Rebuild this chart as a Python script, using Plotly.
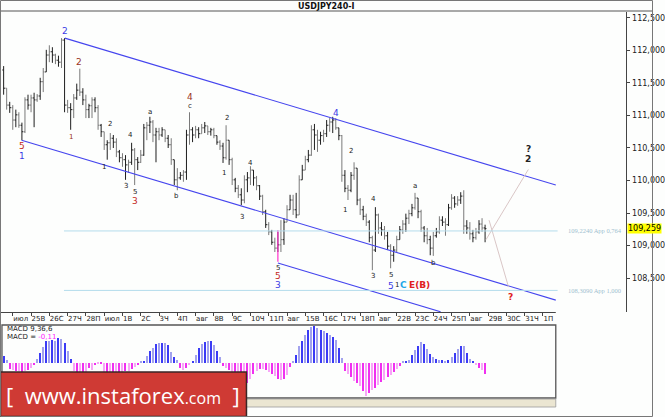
import plotly.graph_objects as go

# ---------------- data ----------------
opens = [111.70,111.42,111.16,111.12,110.93,111.01,110.85,110.75,111.24,111.16,
111.27,111.24,111.30,111.52,111.67,111.93,111.98,111.93,111.85,111.82,
112.16,111.16,111.12,111.09,111.27,111.39,111.36,111.24,111.09,111.15,
111.24,111.12,110.85,110.75,110.55,110.58,110.65,110.59,110.44,110.35,
110.32,110.24,110.28,110.47,110.32,110.28,110.39,110.81,110.85,110.90,
110.70,110.75,110.70,110.78,110.65,110.55,110.32,110.01,110.04,110.08,
110.13,110.70,110.78,110.70,110.78,110.72,110.81,110.84,110.75,110.78,
110.69,110.59,110.53,110.35,110.62,110.32,110.01,109.88,109.78,109.70,
110.01,110.04,110.16,110.04,109.92,109.76,109.52,109.32,109.21,109.05,
108.96,109.01,109.09,109.36,109.55,109.70,109.55,109.47,110.01,110.16,
110.32,110.39,110.78,110.70,110.62,110.69,110.72,110.85,110.90,110.93,
110.81,110.69,110.08,109.88,109.85,110.08,110.19,109.70,109.55,109.45,
109.36,109.12,108.93,109.47,109.27,109.24,109.15,108.99,108.85,108.93,
109.09,109.24,109.33,109.42,109.49,109.58,109.73,109.52,109.27,109.15,
109.09,108.96,109.15,109.21,109.39,109.36,109.32,109.58,109.73,109.64,
109.70,109.76,109.30,109.27,109.18,109.12,109.21,109.33,109.27]
highs = [111.76,111.42,111.21,111.16,111.09,111.05,110.89,111.28,111.32,111.32,
111.35,111.33,111.58,111.73,112.01,112.08,112.05,111.95,111.92,112.19,
112.19,111.24,111.19,111.33,111.49,111.72,111.42,111.32,111.18,111.28,
111.28,111.16,110.87,110.75,110.62,110.73,110.70,110.65,110.47,110.42,
110.39,110.32,110.58,110.50,110.36,110.47,110.87,110.90,110.98,110.93,
110.81,110.81,110.82,110.78,110.70,110.65,110.32,110.19,110.13,110.16,
110.78,111.05,110.82,110.84,110.82,110.87,110.90,110.84,110.81,110.81,
110.69,110.62,110.58,110.85,110.62,110.35,110.04,109.93,109.88,110.08,
110.13,110.22,110.16,110.07,109.93,109.78,109.55,109.36,109.24,109.12,
109.21,109.39,109.42,109.62,109.78,109.78,109.81,110.08,110.24,110.38,
110.47,110.85,110.87,110.78,110.75,110.78,110.93,110.96,110.98,110.96,
110.81,110.70,110.16,109.93,110.13,110.28,110.19,109.73,109.61,109.49,
109.39,109.15,109.59,109.49,109.36,109.30,109.21,109.02,108.99,109.15,
109.30,109.39,109.49,109.55,109.64,109.81,109.73,109.55,109.30,109.27,
109.15,109.21,109.27,109.45,109.45,109.42,109.64,109.79,109.76,109.76,
109.82,109.85,109.39,109.36,109.24,109.27,109.39,109.42,109.32]
lows = [111.32,111.09,111.04,110.78,110.82,110.81,110.62,110.73,111.09,111.05,
110.82,111.21,111.24,111.36,111.67,111.82,111.81,111.79,111.75,111.73,
111.05,111.04,110.78,110.96,111.24,111.30,111.16,110.96,110.96,110.96,
111.05,110.78,110.67,110.47,110.32,110.47,110.50,110.36,110.28,110.21,
110.01,110.12,110.24,109.93,110.16,110.27,110.38,110.62,110.73,110.59,
110.28,110.62,110.67,110.59,110.50,110.24,109.93,109.85,110.01,109.98,
110.01,110.55,110.59,110.65,110.65,110.72,110.73,110.70,110.69,110.65,
110.55,110.47,110.27,110.32,110.24,109.93,109.82,109.73,109.62,109.65,
109.82,109.93,109.92,109.85,109.70,109.47,109.27,109.16,109.01,108.90,
108.90,108.90,109.01,109.36,109.55,109.47,109.42,109.47,110.01,110.16,
110.28,110.38,110.47,110.44,110.55,110.59,110.67,110.75,110.73,110.78,
110.62,109.98,109.82,109.70,109.82,110.01,109.62,109.47,109.39,109.30,
109.05,108.62,108.90,109.18,109.15,109.09,108.93,108.65,108.75,108.90,
109.09,109.18,109.21,109.33,109.45,109.55,109.42,109.21,109.05,109.02,
108.85,108.84,109.12,109.18,109.30,109.15,109.30,109.55,109.58,109.61,
109.64,109.18,109.18,109.09,109.05,109.09,109.18,109.21,109.05]
closes = [111.42,111.16,111.12,110.93,111.01,110.85,110.75,111.24,111.16,111.27,
111.24,111.30,111.52,111.67,111.93,111.98,111.93,111.85,111.82,112.16,
111.16,111.12,111.09,111.27,111.39,111.36,111.24,111.09,111.15,111.24,
111.12,110.85,110.75,110.55,110.58,110.65,110.59,110.44,110.35,110.32,
110.24,110.28,110.47,110.32,110.28,110.39,110.81,110.85,110.90,110.70,
110.75,110.70,110.78,110.65,110.55,110.32,110.01,110.04,110.08,110.13,
110.70,110.78,110.70,110.78,110.72,110.81,110.84,110.75,110.78,110.69,
110.59,110.53,110.35,110.62,110.32,110.01,109.88,109.78,109.70,110.01,
110.04,110.16,110.04,109.92,109.76,109.52,109.32,109.21,109.05,108.96,
109.01,109.09,109.36,109.55,109.70,109.55,109.47,110.01,110.16,110.32,
110.39,110.78,110.70,110.62,110.69,110.72,110.85,110.90,110.93,110.81,
110.69,110.08,109.88,109.85,110.08,110.19,109.70,109.55,109.45,109.36,
109.12,108.93,109.47,109.27,109.24,109.15,108.99,108.85,108.93,109.09,
109.24,109.33,109.42,109.49,109.58,109.73,109.52,109.27,109.15,109.09,
108.96,109.15,109.21,109.39,109.36,109.32,109.58,109.73,109.64,109.70,
109.76,109.30,109.27,109.18,109.12,109.21,109.33,109.27,109.26]
macd_hist = [0.07,0.03,-0.06,-0.07,-0.08,-0.08,-0.09,-0.08,-0.07,-0.05,
-0.02,0.04,0.10,0.16,0.22,0.22,0.23,0.22,0.25,0.24,
0.20,0.12,0.04,-0.08,-0.09,-0.09,-0.09,-0.09,-0.05,-0.07,
-0.02,-0.01,-0.01,-0.09,-0.09,-0.09,-0.09,-0.09,-0.09,-0.09,
-0.08,-0.08,-0.06,-0.04,-0.02,0.01,0.02,0.07,0.12,0.15,
0.19,0.20,0.20,0.20,0.18,0.11,0.06,0.03,-0.05,-0.07,
-0.05,-0.02,0.02,0.08,0.15,0.19,0.21,0.22,0.22,0.18,
0.12,0.06,-0.03,-0.05,-0.07,-0.09,-0.12,-0.15,-0.17,-0.19,
-0.20,-0.16,-0.11,-0.08,-0.06,-0.06,-0.07,-0.09,-0.11,-0.13,
-0.16,-0.17,-0.16,-0.12,-0.04,0.01,0.08,0.17,0.22,0.28,
0.33,0.36,0.37,0.35,0.33,0.32,0.30,0.28,0.26,0.23,
0.15,0.05,-0.08,-0.11,-0.14,-0.18,-0.20,-0.23,-0.28,-0.33,
-0.30,-0.27,-0.25,-0.22,-0.19,-0.17,-0.14,-0.12,-0.09,-0.06,
-0.03,0.01,0.02,0.03,0.08,0.13,0.17,0.21,0.19,0.14,
0.09,0.06,0.04,0.03,0.03,0.02,0.03,0.06,0.10,0.14,
0.17,0.17,0.10,0.04,0.02,-0.02,-0.05,-0.07,-0.11]
day_labels = ["июл","25В","26С","27Ч","28П","июл","1В","2С","3Ч","4П",
              "авг","8В","9С","10Ч","11П","авг","15В","16С","17Ч","18П",
              "авг","22В","23С","24Ч","25П","авг","29В","30С","31Ч","1П"]
price_ticks = [108.5, 109.0, 109.5, 110.0, 110.5, 111.0, 111.5, 112.0, 112.5]
price_tick_text = ["108,500","109,000","109,500","110,000","110,500","111,000","111,500","112,000","112,500"]
last_price = 109.259
macd_last = "-0,11"
fibo_levels = [109.224, 108.309]
fibo_texts = ["109,2240 App 0,764", "108,3090 App 1,000"]

# wave labels: (bar index, price, text, kind)
wave_labels = [
    (20.1, 112.30, "2", "blue"), (24.6, 111.82, "2", "brown"), (22.0, 110.67, "1", "brown_s"),
    (5.9, 110.53, "5", "red"), (5.9, 110.38, "1", "blue"),
    (34.9, 110.87, "2", "small"), (33.0, 110.21, "1", "small"), (41.7, 110.70, "4", "small"),
    (40.1, 109.91, "3", "small"), (43.0, 109.82, "5", "small"), (43.0, 109.68, "3", "red"),
    (48.1, 111.05, "a", "small"), (61.0, 111.29, "4", "brown"), (61.0, 111.14, "c", "small"),
    (56.8, 109.76, "b", "small"), (73.3, 110.96, "2", "small"), (72.3, 110.12, "1", "small"),
    (81.0, 110.27, "4", "small"), (78.1, 109.44, "3", "small"),
    (90.0, 108.65, "5", "small"), (90.0, 108.53, "5", "red"), (90.0, 108.39, "3", "blue"),
    (109.0, 111.04, "4", "blue"), (113.9, 110.45, "2", "small"), (112.0, 109.55, "1", "small"),
    (121.3, 109.71, "4", "small"), (121.3, 108.53, "3", "small"), (127.1, 108.55, "5", "small"),
    (135.1, 109.91, "a", "small"), (141.0, 108.73, "b", "small"),
    (127.1, 108.38, "5", "blue"), (129.0, 108.39, "1", "small"),
    (131.3, 108.39, "C", "cyan"), (136.4, 108.39, "E(B)", "redb"),
    (172.2, 110.48, "?", "blackb"), (172.2, 110.33, "2", "blackb"),
    (166.4, 108.21, "?", "redb"),
]
# drawn objects (bar index, price)
channel_lines = [((20.08, 112.19), (181.2, 109.93)),
                 ((5.9, 110.62), (181.2, 108.16)),
                 ((90.0, 108.73), (143.4, 107.98))]
forecast_lines = [((158.3, 109.09), (172.2, 110.17)),
                  ((159.3, 109.39), (165.7, 108.36))]
marker_line = ((90.0, 109.24), (90.0, 108.75))
fibo_span = (19.8, 181.8)

# ---------------- figure ----------------
W, H = 665, 417
def px(x):
    return x / W
def py(y):
    return 1 - y / H

n = len(closes)
idx = list(range(n))
fig = go.Figure()

for parity, col in ((0, "#1e1e1e"), (1, "#7a7a7a")):
    sel = [i for i in idx if i % 2 == parity]
    fig.add_trace(go.Ohlc(
        x=sel, open=[opens[i] for i in sel], high=[highs[i] for i in sel],
        low=[lows[i] for i in sel], close=[closes[i] for i in sel],
        increasing=dict(line=dict(color=col, width=1)),
        decreasing=dict(line=dict(color=col, width=1)),
        tickwidth=0.22, hoverinfo="skip", showlegend=False,
        xaxis="x", yaxis="y"))

bar_colors = []
for i, v in enumerate(macd_hist):
    if v >= 0:
        bar_colors.append("#3b3bf5" if i % 2 == 0 else "#a2a2ee")
    else:
        bar_colors.append("#f02ff0" if i % 2 == 0 else "#f7a6f7")
fig.add_trace(go.Bar(x=idx, y=macd_hist, marker=dict(color=bar_colors, line=dict(width=0)),
                     width=0.38, hoverinfo="skip", showlegend=False,
                     xaxis="x2", yaxis="y2"))

small_font = "DejaVu Sans"
styles = {
    "small": dict(color="#222222", size=7),
    "blue": dict(color="#3a3ae6", size=9),
    "brown": dict(color="#993322", size=9),
    "brown_s": dict(color="#993322", size=7),
    "red": dict(color="#c42a1e", size=9),
    "cyan": dict(color="#1fa7e8", size=9),
    "redb": dict(color="#e02020", size=9),
    "blackb": dict(color="#222222", size=9),
}
annotations = []
for (xi, p, t, kind) in wave_labels:
    st = styles[kind]
    txt = "<b>%s</b>" % t if kind in ("cyan", "redb", "blackb") else t
    annotations.append(dict(x=xi, y=p, xref="x", yref="y", text=txt, showarrow=False,
                            font=dict(family=small_font, size=st["size"], color=st["color"]),
                            xanchor="center", yanchor="middle"))

for lvl, t in zip(fibo_levels, fibo_texts):
    annotations.append(dict(x=184.5, y=lvl, xref="x", yref="y", text=t, showarrow=False,
                            font=dict(family="Liberation Serif", size=6.5, color="#9fbfd0"),
                            xanchor="left", yanchor="middle"))

annotations.append(dict(x=px(639), y=last_price, xref="paper", yref="y",
                        text="109,259", showarrow=False, xanchor="left", yanchor="middle",
                        bgcolor="#ffff00", borderpad=0,
                        font=dict(family="DejaVu Sans", size=8, color="#000000")))
annotations.append(dict(x=px(333), y=py(6), xref="paper", yref="paper", text="<b>USDJPY240-I</b>",
                        showarrow=False, xanchor="center", yanchor="middle",
                        font=dict(family="DejaVu Sans", size=8, color="#111111")))
annotations.append(dict(x=px(5), y=py(329), xref="paper", yref="paper", text="MACD 9,36,6",
                        showarrow=False, xanchor="left", yanchor="middle",
                        font=dict(family="DejaVu Sans", size=7, color="#222222")))
annotations.append(dict(x=px(5), y=py(337), xref="paper", yref="paper",
                        text="MACD = <span style='color:#ff22ff'>%s</span>" % macd_last,
                        showarrow=False, xanchor="left", yanchor="middle",
                        font=dict(family="DejaVu Sans", size=7, color="#222222")))
annotations.append(dict(x=px(125), y=py(395), xref="paper", yref="paper",
                        text="[  www.instaforex<span style='font-size:16px'>.com</span>  ]",
                        showarrow=False, xanchor="center", yanchor="middle",
                        font=dict(family="Open Sans", size=22, color="#ffffff")))

shapes = []
for (a, b) in channel_lines:
    shapes.append(dict(type="line", xref="x", yref="y", x0=a[0], y0=a[1], x1=b[0], y1=b[1],
                       line=dict(color="#4545ee", width=1.1)))
for (a, b) in forecast_lines:
    shapes.append(dict(type="line", xref="x", yref="y", x0=a[0], y0=a[1], x1=b[0], y1=b[1],
                       line=dict(color="#d9c6c6", width=1)))
shapes.append(dict(type="line", xref="x", yref="y", x0=marker_line[0][0], y0=marker_line[0][1],
                   x1=marker_line[1][0], y1=marker_line[1][1], line=dict(color="#ff33cc", width=1.2)))
for lvl in fibo_levels:
    shapes.append(dict(type="line", xref="x", yref="y", x0=fibo_span[0], y0=lvl, x1=fibo_span[1], y1=lvl,
                       line=dict(color="#b4dcec", width=1)))
# frame pieces
shapes.append(dict(type="line", xref="paper", yref="paper", x0=0, x1=1, y0=py(11), y1=py(11),
                   line=dict(color="#555555", width=1)))
shapes.append(dict(type="line", xref="paper", yref="paper", x0=0, x1=px(566), y0=py(312.5), y1=py(312.5),
                   line=dict(color="#444444", width=1)))
shapes.append(dict(type="rect", xref="paper", yref="paper", x0=px(2), x1=px(566), y0=py(398), y1=py(325),
                   line=dict(color="#555555", width=1.3), fillcolor="rgba(0,0,0,0)"))
shapes.append(dict(type="rect", xref="paper", yref="paper", x0=px(0), x1=px(566), y0=py(407), y1=py(399),
                   line=dict(color="#9a9a9a", width=0.8), fillcolor="#ebe6d2"))
shapes.append(dict(type="rect", xref="paper", yref="paper", x0=px(0.5), x1=px(251), y0=py(416.5), y1=py(372),
                   line=dict(color="#3a2626", width=1.5), fillcolor="#cf3a34"))
shapes.append(dict(type="rect", xref="paper", yref="paper", x0=px(0.5), x1=px(664.5), y0=py(416.5), y1=py(0.5),
                   line=dict(color="#777777", width=1), fillcolor="rgba(0,0,0,0)"))

tick_pos = [3 + 6 * d for d in range(len(day_labels))]

fig.update_layout(
    width=W, height=H, margin=dict(l=0, r=0, t=0, b=0),
    paper_bgcolor="#fdfefd", plot_bgcolor="#fdfefd",
    showlegend=False, bargap=0,
    xaxis=dict(domain=[0, px(638)], range=[-1.19, 204.4], anchor="y",
               rangeslider=dict(visible=False), showgrid=False, zeroline=False, showline=False,
               tickmode="array", tickvals=tick_pos, ticktext=day_labels, tickangle=0,
               ticks="outside", ticklen=3, tickcolor="#444444", tickwidth=1,
               ticklabelposition="outside right", ticklabelstandoff=0,
               tickfont=dict(family="DejaVu Sans", size=7, color="#222222")),
    yaxis=dict(domain=[py(312), py(12)], range=[107.977, 112.592], side="right", anchor="x",
               showgrid=False, zeroline=False, showline=True, linecolor="#444444", linewidth=1,
               tickmode="array", tickvals=price_ticks, ticktext=price_tick_text,
               ticks="outside", ticklen=3, tickcolor="#444444",
               tickfont=dict(family="DejaVu Sans", size=8, color="#222222")),
    xaxis2=dict(domain=[px(2), px(566)], range=[-0.55, 181.2], anchor="y2", visible=False),
    yaxis2=dict(domain=[py(398), py(325)], range=[-0.353, 0.377], anchor="x2", visible=False),
    annotations=annotations, shapes=shapes,
)

fig.write_html("out.html", config={"displayModeBar": False},
               post_script="document.body.style.margin='0';document.body.style.padding='0';")
